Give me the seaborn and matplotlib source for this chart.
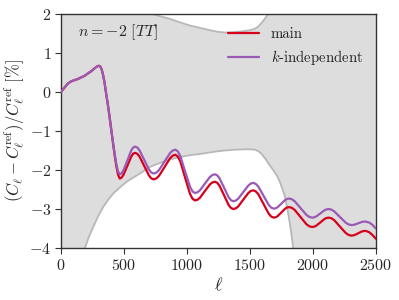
import numpy as np
import pandas as pd
import seaborn as sns
import matplotlib
matplotlib.use("Agg")
import matplotlib.pyplot as plt

# multipoles shared by both curves
ell = [0, 25, 53, 80, 106, 133, 159, 186, 212, 240, 265, 285, 300, 312, 322,
       332, 345, 358, 372, 385, 400, 413, 427, 440, 453, 466,
       481, 496, 527, 557, 572, 587, 606, 624, 661, 698, 716, 735,
       757, 778, 822, 865, 886, 908, 927, 947, 985, 1024, 1044, 1063,
       1083, 1103, 1142, 1182, 1202, 1222, 1240, 1258, 1295, 1331, 1350, 1368,
       1388, 1408, 1447, 1487, 1506, 1526, 1546, 1567, 1608, 1649, 1669, 1690,
       1705, 1720, 1750, 1780, 1795, 1810, 1833, 1856, 1902, 1948, 1971, 1994,
       2010, 2027, 2060, 2092, 2109, 2125, 2148, 2170, 2215, 2261, 2283, 2306,
       2319, 2333, 2360, 2386, 2400, 2413, 2430, 2450, 2475, 2500]

main = [0.00, 0.10, 0.21, 0.27, 0.30, 0.33, 0.37, 0.41, 0.47, 0.53, 0.60,
        0.65, 0.67, 0.65, 0.58, 0.46, 0.25, -0.04, -0.33, -0.63, -1.00,
        -1.32, -1.65, -1.92, -2.12, -2.22,
        -2.195, -2.12, -1.89, -1.66, -1.585, -1.56, -1.586, -1.66, -1.90,
        -2.14, -2.214, -2.24,
        -2.216, -2.148, -1.925, -1.702, -1.634, -1.61, -1.655, -1.781,
        -2.195, -2.609, -2.736, -2.78,
        -2.762, -2.71, -2.54, -2.37, -2.318, -2.30, -2.327, -2.402, -2.65,
        -2.898, -2.973, -3.00,
        -2.982, -2.93, -2.76, -2.59, -2.538, -2.52, -2.547, -2.622, -2.87,
        -3.118, -3.193, -3.22,
        -3.21, -3.181, -3.085, -2.989, -2.96, -2.95, -2.969, -3.024, -3.205,
        -3.386, -3.441, -3.46,
        -3.451, -3.425, -3.34, -3.255, -3.229, -3.22, -3.237, -3.287, -3.45,
        -3.613, -3.663, -3.68,
        -3.675, -3.662, -3.62, -3.578, -3.565, -3.56, -3.57, -3.60, -3.67,
        -3.76]

k_indep = [0.00, 0.10, 0.21, 0.27, 0.30, 0.33, 0.37, 0.41, 0.47, 0.53, 0.60,
           0.65, 0.67, 0.65, 0.58, 0.46, 0.25, -0.04, -0.33, -0.63, -1.00,
           -1.30, -1.61, -1.86, -2.04, -2.11,
           -2.083, -2.006, -1.755, -1.504, -1.427, -1.40, -1.426, -1.501,
           -1.745, -1.989, -2.064, -2.09,
           -2.067, -2.001, -1.785, -1.569, -1.503, -1.48, -1.522, -1.642,
           -2.035, -2.428, -2.548, -2.59,
           -2.572, -2.52, -2.35, -2.18, -2.128, -2.11, -2.136, -2.211, -2.455,
           -2.699, -2.774, -2.80,
           -2.782, -2.731, -2.565, -2.399, -2.348, -2.33, -2.355, -2.426,
           -2.66, -2.894, -2.965, -2.99,
           -2.98, -2.952, -2.86, -2.768, -2.74, -2.73, -2.749, -2.802, -2.975,
           -3.148, -3.201, -3.22,
           -3.212, -3.188, -3.11, -3.032, -3.008, -3.00, -3.016, -3.06, -3.205,
           -3.35, -3.394, -3.41,
           -3.407, -3.397, -3.365, -3.333, -3.323, -3.32, -3.33, -3.35, -3.41,
           -3.50]

# error band edges
band_ell = [0, 100, 150, 175, 190, 220, 256, 295, 336, 375, 415, 470, 521,
            575, 627, 706, 785, 865, 945, 1024, 1103, 1183, 1243, 1302, 1380,
            1460, 1500, 1540, 1568, 1593, 1620, 1646, 1680, 1712, 1740, 1778,
            1804, 1825, 1844, 1900, 2500]
band_lo = [-9.0, -6.5, -5.0, -4.3, -4.0, -3.72, -3.46, -3.18, -2.94, -2.76,
           -2.60, -2.44, -2.30, -2.19, -2.09, -1.92, -1.82, -1.73, -1.67,
           -1.62, -1.59, -1.55, -1.52, -1.50, -1.48, -1.47, -1.47, -1.48,
           -1.52, -1.59, -1.70, -1.83, -1.98, -2.13, -2.32, -2.68, -3.11,
           -3.54, -4.01, -6.0, -20.0]
band_hi = [9.0, 6.5, 5.0, 4.3, 4.0, 3.72, 3.46, 3.18, 2.94, 2.76, 2.60, 2.44,
           2.30, 2.19, 2.09, 2.01, 1.94, 1.87, 1.78, 1.70, 1.64, 1.58, 1.54,
           1.52, 1.53, 1.56, 1.58, 1.62, 1.68, 1.77, 1.88, 2.01, 2.15, 2.30,
           2.50, 2.90, 3.20, 3.60, 4.00, 6.0, 20.0]

sns.set_theme(style="ticks")
plt.rcParams['font.family'] = ['serif']
plt.rcParams['font.serif'] = ['cmr10']
plt.rcParams['mathtext.fontset'] = 'cm'
plt.rcParams['axes.formatter.use_mathtext'] = True
plt.rcParams['axes.unicode_minus'] = True

df = pd.DataFrame({'ell': ell * 2,
                   'val': main + k_indep,
                   'model': ['main'] * len(ell) + ['$k$-independent'] * len(ell)})

fig = plt.figure(figsize=(3.99, 3.0), dpi=100)
ax = fig.add_axes([0.153, 0.173, 0.789, 0.781])

ax.fill_between(band_ell, band_lo, band_hi, color='#dddddd', lw=0, zorder=0)
ax.plot(band_ell, band_lo, color='#b8b8b8', lw=1.3, zorder=1)
ax.plot(band_ell, band_hi, color='#b8b8b8', lw=1.3, zorder=1)

sns.lineplot(data=df, x='ell', y='val', hue='model',
             palette=['#d6001c', '#9b59b6'], lw=1.6, ax=ax, zorder=3)

ax.set_xlim(0, 2500)
ax.set_ylim(-4, 2)
ax.set_xticks([0, 500, 1000, 1500, 2000, 2500])
ax.set_yticks([-4, -3, -2, -1, 0, 1, 2])
ax.tick_params(labelsize=11.5, length=4, width=0.8, direction='out',
               color='#333333', pad=3)
for s in ax.spines.values():
    s.set_linewidth(1.0)
    s.set_color('#333333')

ax.set_xlabel(r'$\ell$', fontsize=13, labelpad=2)
ax.set_ylabel(r'$(C_\ell - C_\ell^{\rm ref})/C_\ell^{\rm ref}\ [\%]$',
              fontsize=12, labelpad=2)
ax.text(0.054, 0.92, r'$n = -2\ [TT]$', transform=ax.transAxes,
        fontsize=11.5, va='center', ha='left')

leg = ax.legend(loc='upper right', frameon=False, fontsize=10.6,
                handlelength=2.1, bbox_to_anchor=(1.0, 1.0))

fig.savefig('out.png', dpi=100)
